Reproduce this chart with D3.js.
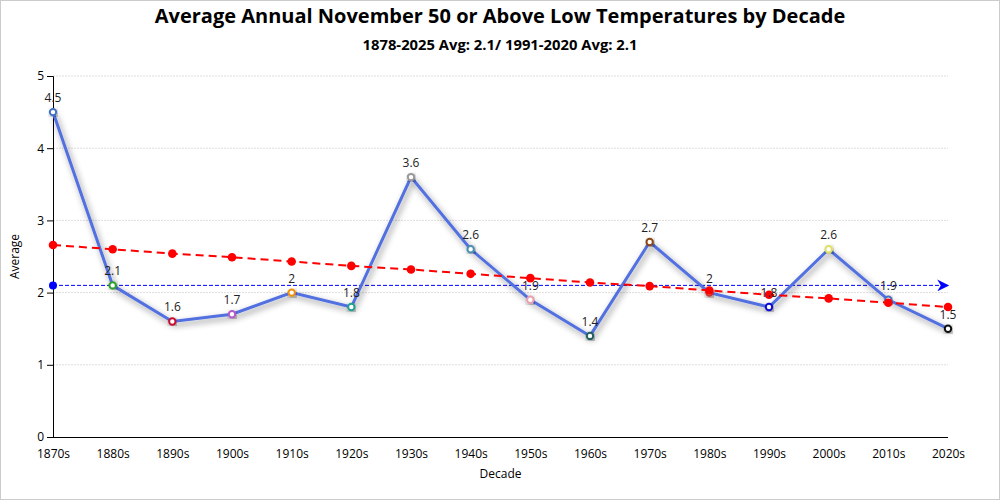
<!DOCTYPE html>
<html>
<head>
<meta charset="utf-8">
<script src="https://cdn.jsdelivr.net/npm/d3@7"></script>
<style>
  body { margin: 0; background: #fff; }
  svg { display: block; font-family: "Open Sans", "Noto Sans", sans-serif; }
</style>
</head>
<body>
<div id="graph"></div>
<script>
const decades = ['1870s', '1880s', '1890s', '1900s', '1910s', '1920s', '1930s', '1940s',
  '1950s', '1960s', '1970s', '1980s', '1990s', '2000s', '2010s', '2020s']
const averages = [4.5, 2.1, 1.6, 1.7, 2, 1.8, 3.6, 2.6, 1.9, 1.4, 2.7, 2, 1.8, 2.6, 1.9, 1.5]
const trend = [2.66, 2.60, 2.54, 2.49, 2.43, 2.37, 2.32, 2.26, 2.20, 2.14, 2.09, 2.03, 1.97, 1.92, 1.86, 1.80]
const pointColours = ['#4472c4', '#2ca02c', '#c8102e', '#b05cc6', '#f0900a', '#20a090', '#999999', '#4a90b0',
  '#e8a0b0', '#206060', '#8b4513', '#d03030', '#1010d0', '#e0e060', '#4a70c0', '#111111']
const yTicks = [0, 1, 2, 3, 4, 5]
const overallAvg = 2.1

const width = 1000, height = 500
const margin = { top: 76, right: 52, bottom: 63, left: 53 }

const svg = d3.select('#graph').append('svg')
  .attr('width', width)
  .attr('height', height)

// border
svg.append('rect')
  .attr('x', 0.5).attr('y', 0.5)
  .attr('width', width - 1).attr('height', height - 1)
  .attr('fill', 'none').attr('stroke', '#ccc')

const defs = svg.append('defs')
const shadow = defs.append('filter').attr('id', 'shadow')
  .attr('x', '-20%').attr('y', '-20%').attr('width', '140%').attr('height', '140%')
shadow.append('feDropShadow')
  .attr('dx', 2).attr('dy', 3).attr('stdDeviation', 3)
  .attr('flood-color', '#000').attr('flood-opacity', 0.45)

defs.append('marker').attr('id', 'arrow')
  .attr('viewBox', '0 0 10 10').attr('refX', 9).attr('refY', 5)
  .attr('markerWidth', 16).attr('markerHeight', 12)
  .attr('markerUnits', 'userSpaceOnUse')
  .attr('orient', 'auto')
  .append('path').attr('d', 'M0,0 L10,5 L0,10 L3,5 Z').attr('fill', 'blue')

const x = d3.scalePoint()
  .domain(decades)
  .range([margin.left, width - margin.right])

const y = d3.scaleLinear()
  .domain([0, 5])
  .range([height - margin.bottom, margin.top])

// title
svg.append('text')
  .attr('x', width / 2).attr('y', 23)
  .attr('text-anchor', 'middle')
  .attr('font-size', 20).attr('font-weight', 'bold')
  .text('Average Annual November 50 or Above Low Temperatures by Decade')
svg.append('text')
  .attr('x', width / 2).attr('y', 50)
  .attr('text-anchor', 'middle')
  .attr('font-size', 14.8).attr('font-weight', 'bold')
  .text('1878-2025 Avg: 2.1/ 1991-2020 Avg: 2.1')

// gridlines
svg.append('g').selectAll('line')
  .data(yTicks.filter(d => d > 0))
  .enter().append('line')
  .attr('x1', margin.left).attr('x2', width - margin.right)
  .attr('y1', d => y(d)).attr('y2', d => y(d))
  .attr('stroke', '#ddd').attr('stroke-dasharray', '2,1')

// axes
const yAxis = svg.append('g')
  .attr('transform', 'translate(' + margin.left + ',0)')
  .call(d3.axisLeft(y).tickValues(yTicks).tickFormat(d3.format('d')))
yAxis.selectAll('text').attr('font-size', 12).attr('font-family', '"Open Sans", sans-serif')

const xAxis = svg.append('g')
  .attr('transform', 'translate(0,' + (height - margin.bottom) + ')')
  .call(d3.axisBottom(x).tickSize(0).tickPadding(12))
xAxis.selectAll('text').attr('font-size', 12).attr('font-family', '"Open Sans", sans-serif')
xAxis.select('.domain').attr('d', 'M' + margin.left + ',0.5H' + (width - margin.right))

svg.append('text')
  .attr('x', (margin.left + width - margin.right) / 2).attr('y', 478)
  .attr('text-anchor', 'middle').attr('font-size', 12)
  .text('Decade')
svg.append('text')
  .attr('transform', 'translate(19,' + ((margin.top + height - margin.bottom) / 2) + ') rotate(-90)')
  .attr('text-anchor', 'middle').attr('font-size', 12)
  .text('Average')

// overall average line
svg.append('line')
  .attr('x1', x(decades[0])).attr('x2', x(decades[decades.length - 1]))
  .attr('y1', y(overallAvg)).attr('y2', y(overallAvg))
  .attr('stroke', 'blue').attr('stroke-width', 1)
  .attr('stroke-dasharray', '4,2')
  .attr('marker-end', 'url(#arrow)')
svg.append('circle')
  .attr('cx', x(decades[0])).attr('cy', y(overallAvg)).attr('r', 4)
  .attr('fill', 'blue')

// main line
const line = d3.line()
  .x((d, i) => x(decades[i]))
  .y(d => y(d))

svg.append('path')
  .datum(averages)
  .attr('d', line)
  .attr('fill', 'none')
  .attr('stroke', '#5270e0')
  .attr('stroke-width', 3)
  .attr('filter', 'url(#shadow)')

svg.append('g').selectAll('circle')
  .data(averages)
  .enter().append('circle')
  .attr('cx', (d, i) => x(decades[i]))
  .attr('cy', d => y(d))
  .attr('r', 3.2)
  .attr('fill', '#fff')
  .attr('stroke', (d, i) => pointColours[i])
  .attr('stroke-width', 2)
  .attr('filter', 'url(#shadow)')

// trend line
svg.append('path')
  .datum(trend)
  .attr('d', line)
  .attr('fill', 'none')
  .attr('stroke', 'red')
  .attr('stroke-width', 2)
  .attr('stroke-dasharray', '8,5')

svg.append('g').selectAll('circle')
  .data(trend)
  .enter().append('circle')
  .attr('cx', (d, i) => x(decades[i]))
  .attr('cy', d => y(d))
  .attr('r', 4.3)
  .attr('fill', 'red')

// value labels
svg.append('g').selectAll('text')
  .data(averages)
  .enter().append('text')
  .attr('x', (d, i) => x(decades[i]))
  .attr('y', d => y(d) - 10)
  .attr('text-anchor', 'middle')
  .attr('font-size', 12)
  .attr('fill', '#222')
  .text(d => d)
</script>
</body>
</html>
